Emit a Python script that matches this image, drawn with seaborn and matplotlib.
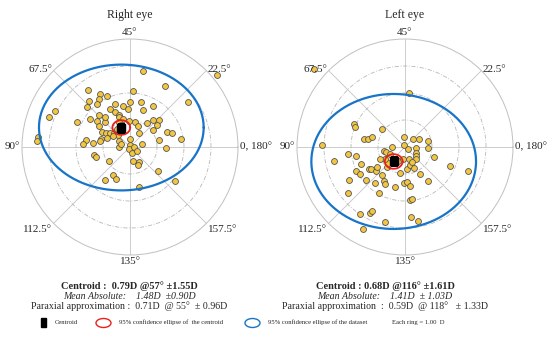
import numpy as np
import matplotlib
matplotlib.use('Agg')
import matplotlib.pyplot as plt
import seaborn as sns
from matplotlib.patches import Ellipse, Rectangle

# double-angle components (D): x = M*cos(2*axis), y = M*sin(2*axis)
right_x = [0.47, 3.23, 1.31, 2.14, 0.12, -1.56, -1.11, -1.51, -0.86, -1.16,
           -1.21, -1.58, -0.57, -0.27, 0.00, 0.40, 0.86, 0.49, -0.07, -0.74,
           -0.54, -0.42, -1.48, -1.14, -0.94, -1.23, -1.95, -2.79, -3.01, -0.40,
           -0.25, -0.02, 0.17, 0.30, 0.64, 0.86, 1.09, 0.99, 1.36, 1.56,
           1.90, 0.86, 0.35, -1.14, -1.04, -0.89, -0.74, -0.59, -0.44, -1.09,
           -0.86, -0.62, -0.49, -1.63, -1.73, -1.36, -1.11, -0.40, -0.40, -0.32,
           0.00, 0.00, -0.02, 0.15, 0.44, 1.06, 1.33, 0.07, 0.10, 0.32,
           0.30, -1.33, -1.26, -0.79, 1.04, -0.64, -0.94, -0.52, 1.68, 0.35,
           -3.41, -3.46, 0.25, -0.42, -0.32, -0.91]
right_y = [2.80, 2.65, 2.26, 1.67, 2.09, 2.10, 1.96, 1.69, 1.88, 1.79,
           1.59, 1.47, 1.59, 1.52, 1.67, 1.68, 1.51, 1.37, 1.42, 1.42,
           1.30, 1.17, 1.05, 1.20, 0.93, 0.98, 0.93, 1.32, 1.12, 1.10,
           1.05, 0.95, 0.93, 0.78, 0.88, 1.00, 1.00, 0.80, 0.56, 0.53,
           0.28, 0.63, 0.53, 0.78, 0.56, 0.51, 0.53, 0.51, 0.46, 0.31,
           0.33, 0.41, 0.68, 0.26, 0.11, 0.14, 0.23, 0.21, -0.01, 0.11,
           0.31, 0.06, -0.06, 0.01, 0.11, 0.26, -0.04, -0.21, -0.53, -0.56,
           -0.68, -0.31, -0.38, -0.51, -0.88, -1.02, -1.22, -1.20, -1.27, -1.49,
           0.36, 0.21, -0.14, 0.93, 0.80, 1.10]

left_x = [-3.38, 0.15, -1.90, -1.85, -0.84, -1.51, -1.36, -1.23, -3.09, -2.12,
          -1.83, -2.64, -0.05, 0.30, 0.52, 0.84, -0.05, -0.47, -0.79, -0.72,
          -0.57, 0.10, 0.42, 0.84, 0.42, 0.40, 0.42, 0.15, 1.09, -1.63,
          -1.33, -1.26, -1.09, -1.04, -1.80, -1.65, -0.86, -0.67, -0.20, 0.07,
          0.17, 0.32, 0.57, 0.84, 1.68, 2.35, -2.07, -1.43, -1.11, -0.79,
          -0.74, -0.37, -0.05, 0.07, 0.20, -0.96, -2.10, 0.17, 0.25, -1.68,
          -1.31, -1.23, -0.74, 0.22, 0.47, -1.56, -0.64, -0.27, -0.07, 0.25,
          -0.74, -0.91]
left_y = [2.90, 2.01, 0.85, 0.75, 0.65, 0.31, 0.28, 0.38, 0.06, -0.26,
          -0.33, -0.51, 0.36, 0.28, 0.31, 0.21, 0.09, -0.01, -0.14, -0.19,
          -0.26, -0.06, -0.04, -0.04, -0.21, -0.33, -0.46, -0.46, -0.38, -0.63,
          -0.80, -0.83, -0.88, -0.75, -0.90, -1.00, -1.05, -0.75, -0.95, -0.83,
          -0.68, -0.78, -1.00, -1.25, -0.70, -0.88, -1.22, -1.22, -1.32, -1.25,
          -1.37, -1.49, -1.32, -1.30, -1.44, -1.69, -1.72, -1.96, -1.94, -2.48,
          -2.46, -2.38, -2.78, -2.60, -2.73, -3.02, -0.60, -0.53, -0.43, -0.56,
          -0.43, -0.43]

# centroid: magnitude (D), axis (deg)
right_centroid = (0.79, 57)
left_centroid = (0.68, 116)
# ellipses: semi-axis x, semi-axis y (D)
right_data_ell = (3.05, 2.33)
left_data_ell = (3.05, 2.50)
right_cent_ell = (0.33, 0.27)
left_cent_ell = (0.33, 0.27)

tick_angles = [0, 45, 90, 135, 180, 225, 270, 315]
tick_labels = ['0, 180°', '22.5°', '45°', '67.5°', '90°', '112.5°', '135°', '157.5°']
rings = [1, 2, 3]
ring_max = 4

right_text = ['Centroid :  0.79D @57° ±1.55D',
              'Mean Absolute:    1.48D  ±0.90D',
              'Paraxial approximation :  0.71D  @ 55°  ± 0.96D']
left_text = ['Centroid : 0.68D @116° ±1.61D',
             'Mean Absolute:    1.41D  ± 1.03D',
             'Paraxial approximation  :  0.59D  @ 118°   ± 1.33D']

sns.set_style('white')
plt.rcParams['font.family'] = ['Liberation Serif', 'DejaVu Serif']

SERIF = 'Liberation Serif'
GOLD = '#F3C640'

# label alignment around the ring
label_align = {0: ('left', 'center'), 45: ('left', 'center'),
               90: ('center', 'bottom'), 135: ('right', 'center'),
               180: ('right', 'center'), 225: ('right', 'top'),
               270: ('center', 'top'), 315: ('left', 'top')}


def ellipse_polar(cx, cy, a, b):
    t = np.linspace(0, 2 * np.pi, 300)
    ex = cx + a * np.cos(t)
    ey = cy + b * np.sin(t)
    th = np.unwrap(np.arctan2(ey, ex))
    return th, np.hypot(ex, ey)


def eye_plot(ax, xs, ys, centroid, data_ell, cent_ell):
    xs = np.array(xs)
    ys = np.array(ys)
    theta = np.arctan2(ys, xs)
    r = np.hypot(xs, ys)

    ax.set_theta_zero_location('E')
    ax.set_thetagrids(tick_angles, [''] * len(tick_angles))
    ax.set_rgrids(rings, labels=[])
    for gl in ax.yaxis.get_gridlines():
        gl.set_linestyle((0, (5, 2, 1, 2)))
        gl.set_color('#b8b8b8')
        gl.set_linewidth(0.6)
    for gl in ax.xaxis.get_gridlines():
        gl.set_linestyle('-')
        gl.set_color('#c4c4c4')
        gl.set_linewidth(0.6)
    ax.spines['polar'].set_color('#c0c0c0')
    ax.spines['polar'].set_linewidth(0.7)

    sns.scatterplot(x=theta, y=r, ax=ax, color=GOLD, edgecolor='#555555',
                    linewidth=0.6, s=18, legend=False, clip_on=False, zorder=3)

    mag, axis = centroid
    cx = mag * np.cos(np.radians(2 * axis))
    cy = mag * np.sin(np.radians(2 * axis))
    th, rr = ellipse_polar(cx, cy, *data_ell)
    ax.plot(th, rr, color='#1874c8', lw=1.6, zorder=4)
    th, rr = ellipse_polar(cx, cy, *cent_ell)
    ax.plot(th, rr, color='#e8201e', lw=1.3, zorder=5)
    ax.plot([np.radians(2 * axis)], [mag], marker='s', color='black',
            markersize=6, zorder=6)
    ax.set_rlim(0, ring_max)
    ax.set_xlabel('')
    ax.set_ylabel('')

    for ang, lab in zip(tick_angles, tick_labels):
        ha, va = label_align[ang]
        ax.text(np.radians(ang), ring_max * 1.02, lab, ha=ha, va=va,
                fontsize=8, family=SERIF, clip_on=False)


fig = plt.figure(figsize=(5.5, 3.4), dpi=100)
ax_r = fig.add_axes([0.04, 0.25, 0.3927, 0.6353], projection='polar')
ax_l = fig.add_axes([0.54, 0.25, 0.3927, 0.6353], projection='polar')
eye_plot(ax_r, right_x, right_y, right_centroid, right_data_ell, right_cent_ell)
eye_plot(ax_l, left_x, left_y, left_centroid, left_data_ell, left_cent_ell)

# overlay in pixel coordinates for titles, summary text and legend
ov = fig.add_axes([0, 0, 1, 1], zorder=10)
ov.set_xlim(0, 550)
ov.set_ylim(340, 0)
ov.axis('off')

ov.text(130, 15, 'Right eye', ha='center', va='center', fontsize=8.5, family=SERIF)
ov.text(405, 15, 'Left eye', ha='center', va='center', fontsize=8.5, family=SERIF)

for cxp, lines in [(129, right_text), (385, left_text)]:
    ov.text(cxp, 286, lines[0], ha='center', va='center', fontsize=7.5,
            fontweight='bold', family=SERIF)
    ov.text(cxp, 296.5, lines[1], ha='center', va='center', fontsize=7.1,
            style='italic', family=SERIF)
    ov.text(cxp, 306.5, lines[2], ha='center', va='center', fontsize=7.1,
            family=SERIF)

ov.add_patch(Rectangle((41, 318), 5, 9, color='black'))
ov.text(55, 322.5, 'Centroid', ha='left', va='center', fontsize=4.8, family=SERIF)
ov.add_patch(Ellipse((103.5, 323), 15, 9, fill=False, ec='#e8201e', lw=1.0))
ov.text(119, 322.5, '95% confidence ellipse of  the centroid', ha='left',
        va='center', fontsize=4.8, family=SERIF)
ov.add_patch(Ellipse((252.5, 323), 15, 9, fill=False, ec='#1874c8', lw=1.0))
ov.text(268, 322.5, '95% confidence ellipse of the dataset', ha='left',
        va='center', fontsize=4.8, family=SERIF)
ov.text(392, 322.5, 'Each ring = 1.00  D', ha='left', va='center',
        fontsize=4.8, family=SERIF)

fig.savefig('out.png', dpi=100)
